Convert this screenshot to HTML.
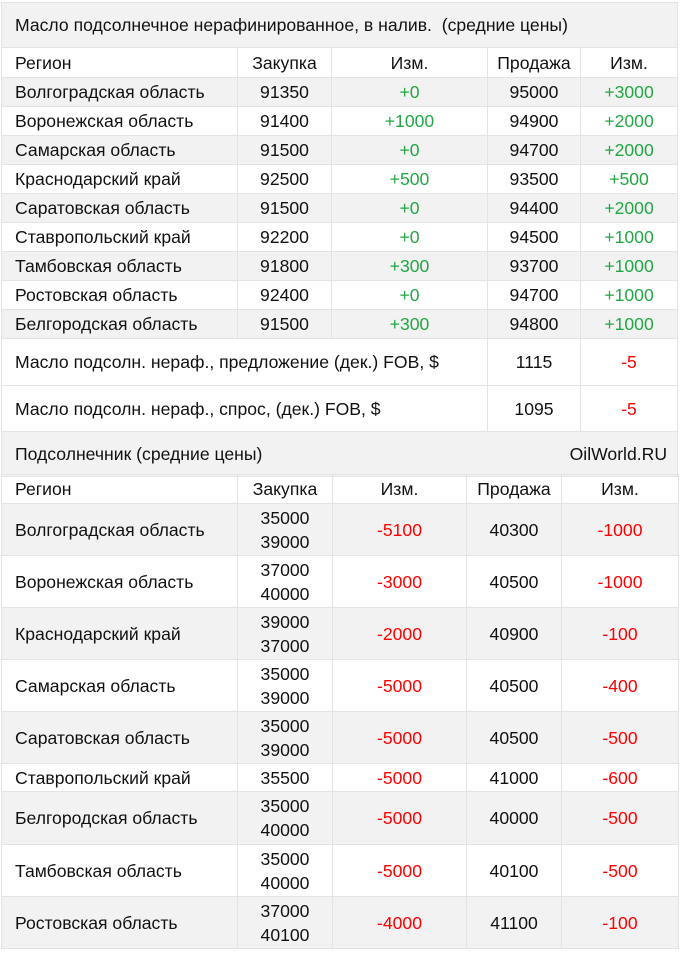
<!DOCTYPE html>
<html><head><meta charset="utf-8"><style>
body{margin:0;background:#fff;width:684px;height:955px;overflow:hidden;font-family:"Liberation Sans","DejaVu Sans",sans-serif;font-size:17.6px;line-height:24px;color:#111}
table{border-collapse:collapse;table-layout:fixed;position:absolute;left:1px;width:677px}
td{border:1px solid #e4e4e4;padding:0;text-align:center;white-space:nowrap;overflow:hidden}
td.l{text-align:left;padding-left:13px}
tr.g td{background:#f2f2f2}
.gr{color:#22a744}.rd{color:#f00}
td.sec{background:#f2f2f2;text-align:left;padding-left:13px}
</style></head><body>
<table style="top:2px">
<colgroup><col style="width:236px"><col style="width:94px"><col style="width:156px"><col style="width:93px"><col style="width:97px"></colgroup>
<tr style="height:45px"><td colspan="5" class="sec">Масло подсолнечное нерафинированное, в налив.&nbsp; (средние цены)</td></tr>
<tr style="height:30px"><td class="l">Регион</td><td>Закупка</td><td>Изм.</td><td>Продажа</td><td>Изм.</td></tr>
<tr class="g" style="height:29px"><td class="l">Волгоградская область</td><td>91350</td><td class="gr">+0</td><td>95000</td><td class="gr">+3000</td></tr>
<tr style="height:29px"><td class="l">Воронежская область</td><td>91400</td><td class="gr">+1000</td><td>94900</td><td class="gr">+2000</td></tr>
<tr class="g" style="height:29px"><td class="l">Самарская область</td><td>91500</td><td class="gr">+0</td><td>94700</td><td class="gr">+2000</td></tr>
<tr style="height:29px"><td class="l">Краснодарский край</td><td>92500</td><td class="gr">+500</td><td>93500</td><td class="gr">+500</td></tr>
<tr class="g" style="height:29px"><td class="l">Саратовская область</td><td>91500</td><td class="gr">+0</td><td>94400</td><td class="gr">+2000</td></tr>
<tr style="height:29px"><td class="l">Ставропольский край</td><td>92200</td><td class="gr">+0</td><td>94500</td><td class="gr">+1000</td></tr>
<tr class="g" style="height:29px"><td class="l">Тамбовская область</td><td>91800</td><td class="gr">+300</td><td>93700</td><td class="gr">+1000</td></tr>
<tr style="height:29px"><td class="l">Ростовская область</td><td>92400</td><td class="gr">+0</td><td>94700</td><td class="gr">+1000</td></tr>
<tr class="g" style="height:29px"><td class="l">Белгородская область</td><td>91500</td><td class="gr">+300</td><td>94800</td><td class="gr">+1000</td></tr>
<tr style="height:47px"><td colspan="3" class="l">Масло подсолн. нераф., предложение (дек.) FOB, $</td><td>1115</td><td class="rd">-5</td></tr>
<tr style="height:46px"><td colspan="3" class="l">Масло подсолн. нераф., спрос, (дек.) FOB, $</td><td>1095</td><td class="rd">-5</td></tr>
<tr style="height:45px"><td colspan="5" class="sec"><span>Подсолнечник (средние цены)</span><span style="float:right;padding-right:10px">OilWorld.RU</span></td></tr>
</table>
<table style="top:474px">
<colgroup><col style="width:236px"><col style="width:95px"><col style="width:134px"><col style="width:95px"><col style="width:117px"></colgroup>
<tr style="height:29px"><td class="l">Регион</td><td>Закупка</td><td>Изм.</td><td>Продажа</td><td>Изм.</td></tr>
<tr class="g" style="height:52px"><td class="l">Волгоградская область</td><td>35000<br>39000</td><td class="rd">-5100</td><td>40300</td><td class="rd">-1000</td></tr>
<tr style="height:52px"><td class="l">Воронежская область</td><td>37000<br>40000</td><td class="rd">-3000</td><td>40500</td><td class="rd">-1000</td></tr>
<tr class="g" style="height:52px"><td class="l">Краснодарский край</td><td>39000<br>37000</td><td class="rd">-2000</td><td>40900</td><td class="rd">-100</td></tr>
<tr style="height:52px"><td class="l">Самарская область</td><td>35000<br>39000</td><td class="rd">-5000</td><td>40500</td><td class="rd">-400</td></tr>
<tr class="g" style="height:52px"><td class="l">Саратовская область</td><td>35000<br>39000</td><td class="rd">-5000</td><td>40500</td><td class="rd">-500</td></tr>
<tr style="height:28px"><td class="l">Ставропольский край</td><td>35500</td><td class="rd">-5000</td><td>41000</td><td class="rd">-600</td></tr>
<tr class="g" style="height:53px"><td class="l">Белгородская область</td><td>35000<br>40000</td><td class="rd">-5000</td><td>40000</td><td class="rd">-500</td></tr>
<tr style="height:52px"><td class="l">Тамбовская область</td><td>35000<br>40000</td><td class="rd">-5000</td><td>40100</td><td class="rd">-500</td></tr>
<tr class="g" style="height:52px"><td class="l">Ростовская область</td><td>37000<br>40100</td><td class="rd">-4000</td><td>41100</td><td class="rd">-100</td></tr>
</table>
</body></html>
